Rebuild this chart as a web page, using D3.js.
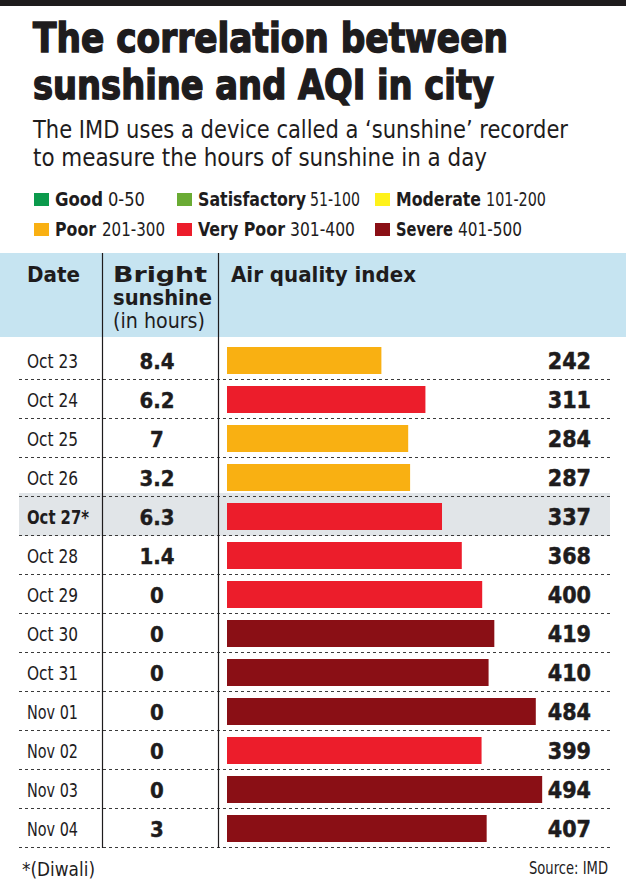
<!DOCTYPE html>
<html>
<head>
<meta charset="utf-8">
<script src="https://cdn.jsdelivr.net/npm/d3@7"></script>
<style>
  html, body { margin: 0; padding: 0; background: #fff; }
  svg { display: block; }
  text { font-family: "Liberation Sans Narrow", "DejaVu Sans Condensed", "DejaVu Sans", sans-serif; fill: #1e1c1d; }
</style>
</head>
<body>
<svg id="chart" width="626" height="893"></svg>
<script>
// ---- Data ----
const dates = ["Oct 23","Oct 24","Oct 25","Oct 26","Oct 27","Oct 28","Oct 29","Oct 30","Oct 31","Nov 01","Nov 02","Nov 03","Nov 04"];
const sunshineHours = [8.4, 6.2, 7, 3.2, 6.3, 1.4, 0, 0, 0, 0, 0, 0, 3];
const aqiValues = [242, 311, 284, 287, 337, 368, 400, 419, 410, 484, 399, 494, 407];
const highlightDate = "Oct 27"; // Diwali

const categoryNames = ["Good", "Satisfactory", "Moderate", "Poor", "Very Poor", "Severe"];
const categoryRanges = ["0-50", "51-100", "101-200", "201-300", "301-400", "401-500"];
const categoryUpper = [50, 100, 200, 300, 400, 500];
const categoryColors = ["#0b9a4c", "#6aab34", "#fff21a", "#f9b012", "#ec1d2b", "#8a0f15"];

const titleLines = ["The correlation between", "sunshine and AQI in city"];
const subtitleLines = ["The IMD uses a device called a \u2018sunshine\u2019 recorder", "to measure the hours of sunshine in a day"];
const headers = { date: "Date", sun: ["Bright", "sunshine", "(in hours)"], aqi: "Air quality index" };
const footnote = "*(Diwali)";
const source = "Source: IMD";

// ---- Drawing ----
const svg = d3.select("#chart");
const W = 626;

svg.append("rect").attr("x", 0).attr("y", 0).attr("width", W).attr("height", 6).attr("fill", "#1e1c1d");

// Title
const titleLen = [475, 461];
svg.selectAll(".title").data(titleLines).join("text")
  .attr("class", "title")
  .attr("x", 33).attr("y", (d, i) => 52 + i * 47)
  .attr("font-size", 40.5).attr("font-weight", "bold")
  .attr("stroke", "#1e1c1d").attr("stroke-width", 1.4)
  .attr("textLength", (d, i) => titleLen[i]).attr("lengthAdjust", "spacingAndGlyphs")
  .text(d => d);

// Subtitle
const subLen = [535, 454];
svg.selectAll(".sub").data(subtitleLines).join("text")
  .attr("class", "sub")
  .attr("x", 33).attr("y", (d, i) => 138 + i * 28)
  .attr("font-size", 24)
  .attr("fill", "#2a2829")
  .attr("textLength", (d, i) => subLen[i]).attr("lengthAdjust", "spacingAndGlyphs")
  .text(d => d);

// Legend (layout: square x, label end x, range start x, range end x)
const legendX = [34, 177, 375];
const labelEnd = [103, 306, 481, 96, 285, 453];
const rangeStart = [108, 310, 486, 102, 290, 458];
const rangeEnd = [145, 360, 546, 165, 355, 522];
const legend = svg.selectAll(".leg").data(categoryNames).join("g").attr("class", "leg")
  .attr("transform", (d, i) => `translate(0,${199 + Math.floor(i / 3) * 30})`);
legend.append("rect").attr("x", (d, i) => legendX[i % 3]).attr("y", -6).attr("width", 15).attr("height", 13)
  .attr("fill", (d, i) => categoryColors[i]);
legend.append("text")
  .attr("x", (d, i) => legendX[i % 3] + 21).attr("y", 7).attr("font-size", 19).attr("font-weight", "bold")
  .attr("textLength", (d, i) => labelEnd[i] - legendX[i % 3] - 21).attr("lengthAdjust", "spacingAndGlyphs")
  .text(d => d);
legend.append("text")
  .attr("x", (d, i) => rangeStart[i]).attr("y", 7).attr("font-size", 19)
  .attr("fill", "#2a2829")
  .attr("textLength", (d, i) => rangeEnd[i] - rangeStart[i]).attr("lengthAdjust", "spacingAndGlyphs")
  .text((d, i) => categoryRanges[i]);

// Table geometry
const tableTop = 253, headBottom = 337, rowsTop = 341, rowsBottom = 848;
const colDateX = 102, colSunX = 218;

svg.append("rect").attr("x", 0).attr("y", tableTop).attr("width", W).attr("height", headBottom - tableTop)
  .attr("fill", "#c6e4f1");

const y = d3.scaleBand().domain(dates).range([rowsTop, rowsBottom]);
const x = d3.scaleLinear().domain([0, 500]).range([227, 546]);
const color = v => categoryColors[categoryUpper.findIndex(u => v <= u)];

// Highlight row
svg.append("rect").attr("x", 19).attr("y", y(highlightDate) - 4).attr("width", 591).attr("height", y.bandwidth() + 4)
  .attr("fill", "#e1e5e8");

// Dotted separators
svg.selectAll(".sep").data(dates).join("line").attr("class", "sep")
  .attr("x1", 19).attr("x2", 610)
  .attr("y1", d => y(d) + y.bandwidth() - 0.5).attr("y2", d => y(d) + y.bandwidth() - 0.5)
  .attr("stroke", "#3a3a3a").attr("stroke-width", 1).attr("stroke-dasharray", "3,3");

// Vertical lines
[colDateX, colSunX].forEach(cx => {
  svg.append("line").attr("x1", cx + 0.5).attr("x2", cx + 0.5).attr("y1", tableTop).attr("y2", rowsBottom)
    .attr("stroke", "#1e1c1d").attr("stroke-width", 1.2);
});

// Headers
svg.append("text").attr("x", 27).attr("y", 282).attr("font-size", 22).attr("font-weight", "bold")
  .attr("textLength", 53).attr("lengthAdjust", "spacingAndGlyphs").text(headers.date);
const sunLen = [94, 99, 92];
headers.sun.forEach((s, i) => {
  svg.append("text").attr("x", 113).attr("y", 282 + i * 23).attr("font-size", 21)
    .attr("font-weight", i < 2 ? "bold" : "normal")
    .attr("textLength", sunLen[i]).attr("lengthAdjust", "spacingAndGlyphs").text(s);
});
svg.append("text").attr("x", 231).attr("y", 282).attr("font-size", 22).attr("font-weight", "bold")
  .attr("textLength", 185).attr("lengthAdjust", "spacingAndGlyphs").text(headers.aqi);

// Rows
const rows = svg.selectAll(".row").data(dates).join("g").attr("class", "row")
  .attr("transform", d => `translate(0,${y(d) + y.bandwidth() / 2})`);

rows.append("text").attr("x", 27).attr("y", 7).attr("font-size", 19)
  .attr("font-weight", d => d === highlightDate ? "bold" : "normal")
  .attr("fill", "#2a2829")
  .attr("textLength", d => d === highlightDate ? 62 : 51).attr("lengthAdjust", "spacingAndGlyphs")
  .text(d => d === highlightDate ? d + "*" : d);

rows.append("text").attr("x", 157).attr("y", 8).attr("text-anchor", "middle").attr("font-size", 22).attr("font-weight", "bold")
  .attr("stroke", "#1e1c1d").attr("stroke-width", 0.4)
  .text((d, i) => sunshineHours[i]);

rows.append("rect")
  .attr("x", x(0)).attr("y", -y.bandwidth() / 2 + 6)
  .attr("width", (d, i) => x(aqiValues[i]) - x(0)).attr("height", y.bandwidth() - 12)
  .attr("fill", (d, i) => color(aqiValues[i]));

rows.append("text").attr("x", 591).attr("y", 8).attr("text-anchor", "end").attr("font-size", 23).attr("font-weight", "bold")
  .attr("stroke", "#1e1c1d").attr("stroke-width", 0.5)
  .text((d, i) => aqiValues[i]);

// Footer
svg.append("text").attr("x", 22).attr("y", 876).attr("font-size", 19).attr("fill", "#2a2829")
  .attr("textLength", 73).attr("lengthAdjust", "spacingAndGlyphs").text(footnote);
svg.append("text").attr("x", 608).attr("y", 874).attr("text-anchor", "end").attr("font-size", 17).attr("fill", "#2a2829")
  .attr("textLength", 79).attr("lengthAdjust", "spacingAndGlyphs")
  .text(source);
</script>
</body>
</html>
